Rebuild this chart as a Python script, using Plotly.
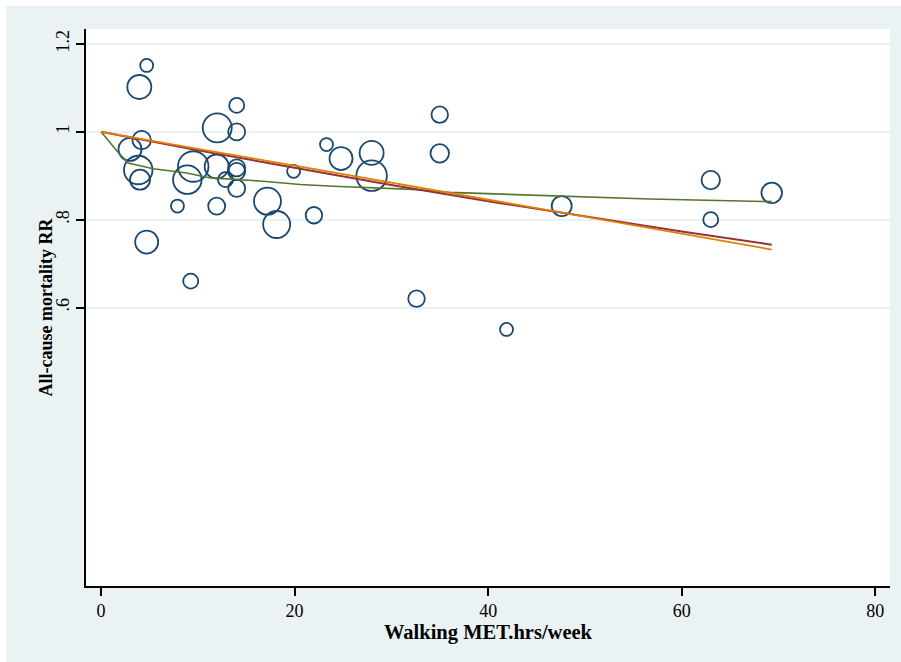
import plotly.graph_objects as go

# ---- study data (Walking MET.hrs/week vs All-cause mortality RR) ----
met_hrs = [4.72, 3.96, 14.02, 12.01, 14.02, 3.0, 4.2, 3.85, 4.03, 4.72,
           9.27, 7.9, 11.95, 8.92, 9.53, 11.95, 12.86, 14.02, 14.02, 14.02,
           17.2, 18.15, 19.9, 22.0, 23.3, 24.8, 27.96, 27.96, 35.0, 35.0,
           32.6, 41.9, 47.6, 63.0, 63.0, 69.3]
rr = [1.151, 1.102, 1.060, 1.009, 1.000, 0.960, 0.981, 0.913, 0.891, 0.749,
      0.660, 0.831, 0.831, 0.891, 0.921, 0.921, 0.891, 0.918, 0.910, 0.871,
      0.842, 0.789, 0.910, 0.810, 0.971, 0.939, 0.952, 0.900, 1.039, 0.951,
      0.620, 0.550, 0.831, 0.890, 0.800, 0.861]
weights = [13, 24, 15, 29, 17, 23, 18.5, 28.5, 20, 23,
           15, 13, 17, 28.5, 30.5, 24, 15, 17, 17, 17,
           27, 27, 13, 16.5, 13, 23, 24, 30.5, 16.5, 18.5,
           16.5, 13, 20, 18.5, 15, 20.5]

# fitted dose-response curves
fit_x = [0, 3, 10, 20, 30, 40, 50, 60, 69.3]
fit_loglinear = [1.0, 0.987, 0.958, 0.918, 0.879, 0.842, 0.807, 0.773, 0.743]
fit_linear = [1.0, 0.988, 0.961, 0.923, 0.884, 0.845, 0.807, 0.768, 0.732]

spline_x = [0, 1.7, 2.8, 5.4, 8.85, 11.3, 16.4, 20.6, 24, 32.2, 36, 47.4, 56.7, 69.3]
spline_y = [1.0, 0.955, 0.929, 0.916, 0.906, 0.895, 0.888, 0.880, 0.876, 0.869,
            0.862, 0.853, 0.847, 0.841]

x_ticks = [0, 20, 40, 60, 80]
y_ticks = [0.6, 0.8, 1.0, 1.2]
y_ticktext = [".6", ".8", "1", "1.2"]

NAVY = "#1a476f"
MAROON = "#90353b"
GREEN = "#55752f"
ORANGE = "#e37e00"
BG = "#eaf2f3"
SERIF = "Liberation Serif"

fig = go.Figure()
fig.add_trace(go.Scatter(
    x=met_hrs, y=rr, mode="markers",
    marker=dict(symbol="circle-open", size=weights, sizemode="diameter",
                opacity=1, color=NAVY, line=dict(color=NAVY, width=1.8)),
    showlegend=False, hoverinfo="x+y"))
fig.add_trace(go.Scatter(x=spline_x, y=spline_y, mode="lines",
                         line=dict(color=GREEN, width=1.6), showlegend=False))
fig.add_trace(go.Scatter(x=fit_x, y=fit_loglinear, mode="lines",
                         line=dict(color=MAROON, width=2), showlegend=False))
fig.add_trace(go.Scatter(x=fit_x, y=fit_linear, mode="lines",
                         line=dict(color=ORANGE, width=1.8), showlegend=False))

W, H = 901, 662
L, R, T, B = 86, 11, 29, 76
pw, ph = W - L - R, H - T - B

fig.update_layout(
    width=W, height=H,
    margin=dict(l=L, r=R, t=T, b=B, autoexpand=False),
    paper_bgcolor=BG, plot_bgcolor="white",
    showlegend=False,
    font=dict(family=SERIF, size=18, color="black"),
    xaxis=dict(
        range=[-1.55, 81.52], tickvals=x_ticks, ticks="outside", ticklen=8,
        tickwidth=1.5, tickcolor="black", showline=True, linecolor="black",
        linewidth=1.5, showgrid=False, zeroline=False,
        tickfont=dict(family=SERIF, size=18, color="black"),
        title=dict(text="Walking MET.hrs/week",
                   font=dict(family=SERIF, size=20.5, color="black", weight="bold"),
                   standoff=3),
        automargin=False),
    yaxis=dict(
        range=[-0.034, 1.234], tickvals=y_ticks, ticktext=y_ticktext,
        tickangle=-90, ticks="outside", ticklen=8, tickwidth=1.5,
        tickcolor="black", showline=True, linecolor="black", linewidth=1.5,
        showgrid=True, gridcolor=BG, gridwidth=1.5, zeroline=False,
        tickfont=dict(family=SERIF, size=18, color="black"),
        automargin=False),
    annotations=[
        dict(text="All-cause mortality RR", xref="paper", yref="paper",
             x=(45 - L) / pw, y=0.5, xanchor="center", yanchor="middle",
             textangle=-90, showarrow=False,
             font=dict(family=SERIF, size=18, color="black", weight="bold")),
    ],
    shapes=[
        dict(type="rect", xref="paper", yref="paper",
             x0=-0.2, x1=(6 - L) / pw, y0=-0.3, y1=1.3,
             fillcolor="white", line=dict(width=0), layer="below"),
        dict(type="rect", xref="paper", yref="paper",
             x0=-0.2, x1=1.2, y0=1 + (T - 6) / ph, y1=1.3,
             fillcolor="white", line=dict(width=0), layer="below"),
    ],
)

fig.write_html("out.html")
